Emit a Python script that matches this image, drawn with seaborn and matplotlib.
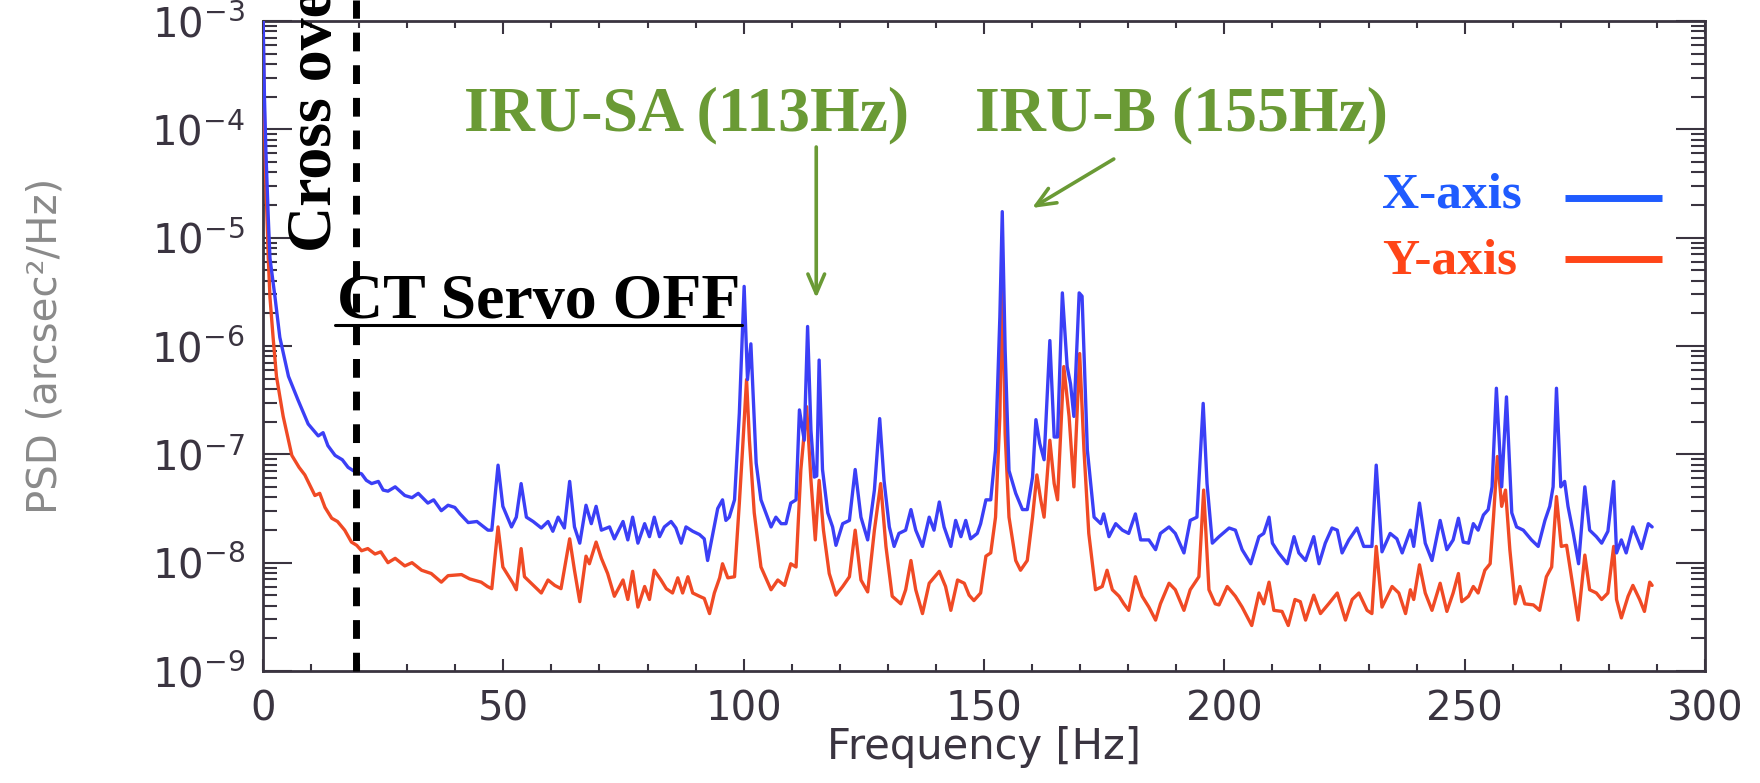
import numpy as np
import pandas as pd
import matplotlib
matplotlib.use("Agg")
import matplotlib.pyplot as plt
import seaborn as sns
from matplotlib.ticker import LogLocator, MultipleLocator, NullFormatter
from matplotlib.lines import Line2D

# ---------------- data ----------------
freq_x = [0.0, 0.3, 0.6, 1.1, 1.45, 2.5, 3.5, 5.3, 7.3, 9.4, 11.5, 12.5, 13.5, 15.0, 16.5, 17.7, 19.1,
          20.5, 21.5, 22.6, 24.0, 25.0, 26.0, 27.5, 29.5, 31.0, 32.3, 34.3, 35.5, 37.1, 38.5, 39.9,
          41.0, 42.7, 44.5, 46.8, 47.6, 48.9, 49.9, 51.7, 52.7, 53.7, 54.8, 56.2, 57.9, 59.3, 60.3,
          61.4, 62.7, 63.8, 64.8, 65.9, 67.2, 68.3, 69.3, 70.4, 72.1, 73.1, 74.9, 75.9, 76.9, 78.0,
          79.4, 80.4, 81.4, 82.5, 83.5, 84.9, 85.9, 87.0, 88.0, 89.4, 90.8, 91.8, 92.5, 93.6, 94.6,
          95.6, 96.3, 97.0, 98.1, 99.1, 100.1, 100.8, 101.5, 102.6, 103.6, 104.6, 105.7, 106.7,
          107.8, 108.8, 109.8, 110.9, 111.6, 112.6, 113.3, 114.0, 114.7, 115.2, 115.7, 116.4, 117.5,
          118.5, 119.2, 120.6, 122.0, 123.2, 124.4, 125.8, 127.2, 128.3, 129.2, 130.3, 131.3, 132.3,
          133.7, 134.8, 135.8, 137.2, 138.6, 139.6, 140.7, 141.7, 143.1, 144.1, 145.2, 146.2, 147.2,
          148.6, 149.3, 150.4, 151.4, 152.4, 153.3, 153.8, 154.4, 155.2, 156.6, 158.0, 159.0, 160.1,
          160.8, 161.6, 162.5, 163.7, 164.6, 165.3, 166.3, 167.3, 168.0, 168.7, 169.8, 170.4, 171.5,
          172.9, 174.3, 174.9, 176.0, 177.4, 178.8, 180.1, 181.5, 182.6, 184.3, 185.7, 186.7, 188.5,
          189.8, 191.6, 192.9, 194.3, 195.6, 196.4, 197.5, 198.9, 201.0, 202.3, 203.7, 205.5, 207.2,
          208.2, 209.3, 210.0, 211.3, 213.1, 214.5, 215.5, 216.9, 218.6, 219.7, 221.0, 222.4, 223.5,
          224.5, 225.9, 227.6, 229.0, 230.7, 231.6, 232.8, 234.5, 235.9, 237.0, 238.7, 239.4, 240.6,
          241.8, 243.2, 244.9, 246.3, 247.6, 248.7, 249.7, 250.8, 251.8, 252.8, 253.9, 254.9, 255.7,
          256.6, 257.7, 258.7, 259.8, 260.8, 262.2, 263.9, 265.3, 266.7, 267.7, 268.4, 269.1, 270.0,
          270.8, 271.5, 272.6, 273.7, 275.0, 276.0, 277.4, 278.5, 279.8, 281.0, 281.6, 282.6, 283.6,
          285.0, 286.8, 288.2, 289.0]
log_psd_x = [-2.9, -3.7, -4.2, -4.82, -5.19, -5.55, -5.92, -6.28, -6.50, -6.72, -6.83, -6.80, -6.92,
             -7.01, -7.05, -7.12, -7.16, -7.18, -7.24, -7.27, -7.25, -7.33, -7.34, -7.30, -7.38,
             -7.40, -7.36, -7.45, -7.42, -7.52, -7.47, -7.49, -7.55, -7.63, -7.62, -7.70, -7.70,
             -7.10, -7.48, -7.67, -7.58, -7.27, -7.58, -7.62, -7.68, -7.62, -7.71, -7.58, -7.68,
             -7.25, -7.67, -7.82, -7.47, -7.64, -7.48, -7.70, -7.67, -7.78, -7.62, -7.79, -7.58,
             -7.82, -7.64, -7.76, -7.58, -7.76, -7.67, -7.62, -7.68, -7.82, -7.67, -7.71, -7.74,
             -7.78, -7.98, -7.73, -7.50, -7.42, -7.61, -7.58, -7.42, -6.62, -5.45, -6.31, -5.98,
             -7.08, -7.42, -7.54, -7.67, -7.58, -7.64, -7.64, -7.45, -7.42, -6.59, -6.87, -5.82,
             -6.78, -7.21, -7.20, -6.13, -7.14, -7.54, -7.67, -7.84, -7.64, -7.61, -7.14, -7.58,
             -7.79, -7.33, -6.67, -7.24, -7.67, -7.85, -7.73, -7.70, -7.51, -7.70, -7.85, -7.58,
             -7.70, -7.44, -7.67, -7.85, -7.61, -7.76, -7.61, -7.78, -7.73, -7.64, -7.42, -7.42,
             -6.96, -5.73, -4.76, -6.04, -7.15, -7.36, -7.51, -7.51, -7.21, -6.68, -6.90, -7.05,
             -5.95, -6.84, -6.84, -5.51, -6.19, -6.35, -6.65, -5.51, -5.54, -6.96, -7.58, -7.64,
             -7.55, -7.76, -7.64, -7.70, -7.73, -7.55, -7.79, -7.79, -7.88, -7.73, -7.67, -7.73,
             -7.91, -7.61, -7.58, -6.53, -7.27, -7.82, -7.76, -7.68, -7.70, -7.88, -8.01, -7.76,
             -7.73, -7.58, -7.82, -7.91, -8.01, -7.76, -7.91, -7.98, -7.76, -8.01, -7.82, -7.68,
             -7.70, -7.91, -7.79, -7.68, -7.85, -7.85, -7.10, -7.90, -7.73, -7.78, -7.91, -7.70,
             -7.85, -7.45, -7.82, -7.98, -7.61, -7.88, -7.79, -7.59, -7.81, -7.82, -7.64, -7.70,
             -7.56, -7.51, -7.30, -6.39, -7.30, -6.47, -7.54, -7.67, -7.70, -7.79, -7.85, -7.61,
             -7.48, -7.30, -6.39, -7.30, -7.25, -7.48, -7.73, -8.01, -7.30, -7.70, -7.76, -7.82,
             -7.71, -7.25, -7.91, -7.79, -7.91, -7.67, -7.87, -7.64, -7.67]

freq_y = [0.0, 0.3, 0.6, 1.1, 1.45, 2.1, 2.8, 4.2, 6.0, 7.5, 8.7, 10.8, 11.8, 12.9, 14.3, 15.5, 17.0,
          18.4, 19.5, 20.5, 21.8, 23.3, 24.5, 26.0, 27.5, 29.5, 31.0, 33.0, 35.0, 37.1, 38.5, 41.3,
          43.0, 45.4, 46.7, 47.6, 48.9, 49.9, 52.0, 52.7, 53.7, 54.4, 55.8, 57.9, 59.3, 60.7, 62.0,
          63.8, 64.8, 65.9, 67.2, 67.9, 69.3, 70.4, 71.7, 73.1, 74.9, 75.9, 76.9, 78.0, 79.4, 80.4,
          81.4, 82.8, 83.9, 85.2, 86.3, 87.3, 88.4, 89.4, 90.8, 91.8, 92.9, 93.9, 95.0, 95.6, 96.7,
          98.1, 99.1, 99.8, 100.6, 101.2, 102.2, 103.6, 105.7, 107.1, 108.5, 109.8, 110.9, 111.9,
          113.1, 114.0, 114.9, 115.7, 116.6, 117.8, 119.2, 120.6, 122.0, 123.2, 124.4, 125.8, 127.2,
          128.5, 129.6, 130.9, 132.7, 133.7, 134.8, 135.8, 137.2, 138.6, 140.7, 142.0, 143.1, 144.5,
          145.9, 146.9, 147.9, 149.3, 150.4, 151.4, 152.4, 153.3, 153.8, 154.4, 155.2, 156.6, 157.6,
          159.0, 160.1, 161.0, 161.8, 162.5, 163.7, 164.6, 165.3, 166.6, 167.7, 168.7, 169.9, 170.8,
          171.8, 173.2, 174.6, 175.6, 176.7, 178.1, 179.1, 180.1, 181.5, 182.9, 184.3, 185.7, 186.7,
          188.5, 189.8, 191.6, 192.9, 194.7, 195.7, 196.8, 198.1, 198.9, 200.6, 202.3, 203.7, 205.7,
          207.2, 208.2, 209.3, 210.3, 212.0, 213.3, 214.7, 215.8, 216.9, 218.6, 220.0, 221.7, 223.5,
          225.2, 226.6, 228.0, 229.7, 230.7, 231.6, 232.8, 234.9, 236.3, 237.7, 238.7, 239.4, 240.6,
          241.8, 243.2, 244.9, 246.3, 247.6, 248.7, 249.4, 250.8, 251.8, 252.8, 254.2, 255.3, 256.0,
          256.8, 257.7, 258.5, 259.4, 260.5, 261.5, 262.5, 264.3, 265.6, 267.0, 268.1, 269.1, 270.1,
          271.2, 272.2, 273.6, 275.0, 276.0, 277.4, 278.5, 279.8, 281.0, 281.6, 282.6, 284.0, 285.0,
          286.4, 287.4, 288.5, 289.0]
log_psd_y = [-3.0, -3.9, -4.5, -5.19, -5.55, -5.92, -6.28, -6.65, -7.01, -7.12, -7.19, -7.38, -7.36,
             -7.49, -7.59, -7.62, -7.70, -7.81, -7.84, -7.89, -7.87, -7.92, -7.90, -8.00, -7.96,
             -8.03, -8.00, -8.07, -8.10, -8.18, -8.12, -8.11, -8.15, -8.18, -8.22, -8.24, -7.67,
             -8.04, -8.19, -8.25, -7.87, -8.13, -8.19, -8.28, -8.16, -8.21, -8.24, -7.78, -8.07,
             -8.36, -7.94, -8.01, -7.81, -7.96, -8.10, -8.31, -8.16, -8.34, -8.08, -8.41, -8.22,
             -8.34, -8.07, -8.16, -8.24, -8.28, -8.14, -8.28, -8.13, -8.28, -8.31, -8.33, -8.47,
             -8.28, -8.14, -8.01, -8.14, -8.13, -7.45, -6.93, -6.31, -6.87, -7.54, -8.04, -8.25,
             -8.16, -8.21, -8.01, -8.04, -7.14, -6.56, -7.24, -7.79, -7.24, -7.70, -8.10, -8.30,
             -8.22, -8.13, -7.70, -8.16, -8.27, -7.70, -7.27, -7.85, -8.31, -8.38, -8.25, -7.98,
             -8.25, -8.47, -8.19, -8.08, -8.22, -8.44, -8.16, -8.19, -8.30, -8.35, -8.28, -7.94,
             -7.91, -7.58, -6.65, -5.31, -6.81, -7.58, -7.98, -8.07, -7.98, -7.58, -7.19, -7.42,
             -7.58, -6.87, -7.27, -7.42, -6.19, -6.65, -7.30, -6.07, -6.96, -7.73, -8.25, -8.22,
             -8.07, -8.25, -8.31, -8.38, -8.44, -8.13, -8.31, -8.41, -8.53, -8.38, -8.19, -8.25,
             -8.44, -8.25, -8.13, -7.33, -8.25, -8.38, -8.39, -8.22, -8.31, -8.41, -8.58, -8.28,
             -8.38, -8.18, -8.44, -8.45, -8.58, -8.34, -8.36, -8.53, -8.30, -8.47, -8.38, -8.28,
             -8.53, -8.34, -8.28, -8.44, -8.47, -7.85, -8.41, -8.22, -8.28, -8.47, -8.25, -8.34,
             -8.02, -8.28, -8.44, -8.19, -8.45, -8.28, -8.10, -8.36, -8.31, -8.22, -8.28, -8.07,
             -8.01, -7.58, -7.02, -7.48, -7.33, -7.88, -8.38, -8.22, -8.38, -8.39, -8.44, -8.13,
             -8.04, -7.39, -7.85, -7.84, -8.13, -8.53, -7.93, -8.25, -8.28, -8.34, -8.28, -7.85,
             -8.34, -8.51, -8.31, -8.21, -8.34, -8.45, -8.18, -8.21]

x_ticks = [0, 50, 100, 150, 200, 250, 300]
series_labels = ["X-axis", "Y-axis"]
crossover_freq = 19.3
peak_labels = ["IRU-SA (113Hz)", "IRU-B (155Hz)"]
arrow_tips = [(115.1, 2.77e-6), (160.0, 1.88e-5)]
arrow_tails = [(115.1, 6.87e-5), (177.0, 5.32e-5)]

# ---------------- style ----------------
BLUE = "#3b3ff6"
RED = "#f04a25"
LEG_BLUE = "#1f5bff"
LEG_RED = "#ff4518"
GREEN = "#6a9a35"
FRAME = "#3a3440"
TXT = "#3a3440"
SERIF = "Liberation Serif"

sns.set_theme(style="ticks")
plt.rcParams["font.family"] = ["DejaVu Sans"]

W, H = 1760, 783
fig = plt.figure(figsize=(W / 100, H / 100), dpi=100)
ax = fig.add_axes([263 / W, (H - 671) / H, (1705 - 263) / W, 650 / H])

df_x = pd.DataFrame({"freq": freq_x, "psd": 10 ** np.array(log_psd_x)})
df_y = pd.DataFrame({"freq": freq_y, "psd": 10 ** np.array(log_psd_y)})
sns.lineplot(data=df_y, x="freq", y="psd", ax=ax, color=RED, linewidth=2.4,
             estimator=None, legend=False, zorder=3)
sns.lineplot(data=df_x, x="freq", y="psd", ax=ax, color=BLUE, linewidth=2.4,
             estimator=None, legend=False, zorder=3)

ax.set_yscale("log")
ax.set_xlim(0, 300)
ax.set_ylim(1e-9, 1e-3)
ax.set_xticks(x_ticks)
ax.xaxis.set_minor_locator(MultipleLocator(10))
ax.yaxis.set_major_locator(LogLocator(base=10, numticks=20))
ax.yaxis.set_minor_locator(LogLocator(base=10, subs=np.arange(2, 10), numticks=20))
ax.yaxis.set_minor_formatter(NullFormatter())

for s in ax.spines.values():
    s.set_visible(True)
    s.set_color(FRAME)
    s.set_linewidth(2)

ax.tick_params(which="both", direction="in", top=True, right=True, color=FRAME, width=1.5)
ax.tick_params(axis="y", which="major", length=21)
ax.tick_params(axis="y", which="minor", length=10)
ax.tick_params(axis="x", which="major", length=9)
ax.tick_params(axis="x", which="minor", length=5)
ax.tick_params(axis="x", which="major", pad=13, labelsize=29, labelcolor=TXT)
ax.tick_params(axis="y", which="major", pad=13, labelsize=29, labelcolor=TXT)

ax.set_xlabel("Frequency [Hz]", fontsize=30, color=TXT, labelpad=-2)
ax.set_ylabel("PSD (arcsec²/Hz)", fontsize=29, color="#8a8a8a")
ax.yaxis.set_label_coords(-0.137, 0.5)

# dashed cross-over line
ax.axvline(crossover_freq, ymin=0, ymax=671 / 650, color="black", linewidth=5,
           dashes=(2.7, 2.0), clip_on=False, zorder=6)

# texts
fig.text(316 / W, 1 - 252 / H, "Cross over", rotation=90, ha="center", va="bottom",
         family=SERIF, weight="bold", fontsize=46, color="black")
ct = fig.text(337 / W, 1 - 318 / H, "CT Servo OFF", ha="left", va="baseline",
              family=SERIF, weight="bold", fontsize=46, color="black", zorder=7)
fig.text(464 / W, 1 - 130 / H, peak_labels[0], ha="left", va="baseline",
         family=SERIF, weight="bold", fontsize=46, color=GREEN)
fig.text(975 / W, 1 - 130 / H, peak_labels[1], ha="left", va="baseline",
         family=SERIF, weight="bold", fontsize=46, color=GREEN)

for tip, tail in zip(arrow_tips, arrow_tails):
    ax.annotate("", xy=tip, xytext=tail,
                arrowprops=dict(arrowstyle="->,head_length=0.7,head_width=0.3",
                                color=GREEN, lw=2.6, mutation_scale=20,
                                shrinkA=0, shrinkB=0))

# legend (text then line sample)
fig.text(1382 / W, 1 - 207 / H, series_labels[0], ha="left", va="baseline",
         family=SERIF, weight="bold", fontsize=37, color=LEG_BLUE)
fig.text(1382 / W, 1 - 273 / H, series_labels[1], ha="left", va="baseline",
         family=SERIF, weight="bold", fontsize=37, color=LEG_RED)
fig.add_artist(Line2D([1565 / W, 1662 / W], [1 - 198 / H] * 2, transform=fig.transFigure,
                      color=LEG_BLUE, linewidth=5, solid_capstyle="butt"))
fig.add_artist(Line2D([1565 / W, 1662 / W], [1 - 259 / H] * 2, transform=fig.transFigure,
                      color=LEG_RED, linewidth=5, solid_capstyle="butt"))

# underline of "CT Servo OFF"
fig.canvas.draw()
bb = ct.get_window_extent()
fig.add_artist(Line2D([(bb.x0 - 2) / W, (bb.x1 + 2) / W], [1 - 325 / H] * 2,
                      transform=fig.transFigure, color="black", linewidth=2.2, zorder=7))

fig.savefig("out.png", dpi=100, facecolor="white")
